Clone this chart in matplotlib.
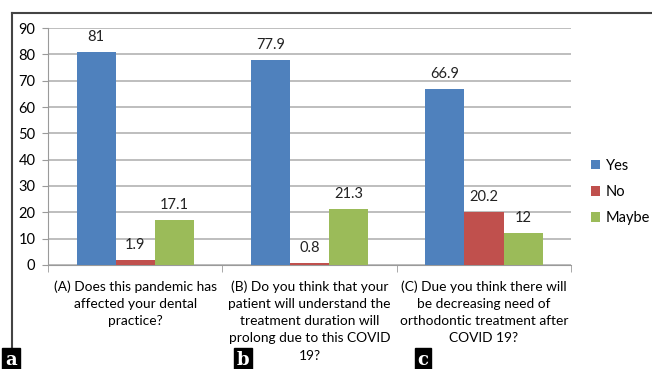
import matplotlib.pyplot as plt
import numpy as np
from matplotlib.lines import Line2D

# data
categories = [
    "(A) Does this pandemic has\naffected your dental\npractice?",
    "(B) Do you think that your\npatient will understand the\ntreatment duration will\nprolong due to this COVID\n19?",
    "(C) Due you think there will\nbe decreasing need of\northodontic treatment after\nCOVID 19?",
]
yes = [81, 77.9, 66.9]
no = [1.9, 0.8, 20.2]
maybe = [17.1, 21.3, 12]
series_names = ["Yes", "No", "Maybe"]
colors = ["#4F81BD", "#C0504D", "#9BBB59"]
panel_letters = ["a", "b", "c"]

plt.rcParams["font.family"] = ["Lato", "DejaVu Sans"]

fig = plt.figure(figsize=(6.52, 3.69), dpi=100)
ax = fig.add_axes([0.0736, 0.282, 0.8025, 0.642])

x = np.arange(len(categories))
w = 0.224
for i, (vals, name, c) in enumerate(zip([yes, no, maybe], series_names, colors)):
    pos = x + (i - 1) * w
    ax.bar(pos, vals, width=w, color=c, label=name, zorder=3)
    for p, v in zip(pos, vals):
        ax.text(p, v + 3, f"{v:g}", ha="center", va="bottom", fontsize=10.5, color="#222222")

ax.set_xlim(-0.5, 2.5)
ax.set_ylim(0, 90)
ax.set_yticks(range(0, 91, 10))
ax.yaxis.grid(True, color="#BEBEBE", linewidth=1.4, zorder=0)
ax.set_axisbelow(True)
for s in ["top", "right"]:
    ax.spines[s].set_visible(False)
ax.spines["left"].set_color("#9A9A9A")
ax.spines["bottom"].set_color("#9A9A9A")
ax.tick_params(axis="y", length=4, color="#9A9A9A", labelsize=10.5, pad=5)

ax.set_xticks(x)
ax.set_xticklabels(categories, fontsize=9.9, linespacing=1.52, va="top")
ax.tick_params(axis="x", length=0, pad=11)
ax.set_xticks([-0.5, 0.5, 1.5, 2.5], minor=True)
ax.tick_params(axis="x", which="minor", length=5, color="#9A9A9A")

fig.legend(*ax.get_legend_handles_labels(), loc="center left",
           bbox_to_anchor=(591 / 652, 1 - 192 / 369), frameon=False,
           borderpad=0, borderaxespad=0,
           handlelength=0.65, handleheight=0.65, handletextpad=0.35,
           labelspacing=0.85, fontsize=10.5)

# outer frame
fig.add_artist(Line2D([12 / 652, 12 / 652], [0, 1 - 13 / 369], color="#444444", lw=1.5))
fig.add_artist(Line2D([12 / 652, 1], [1 - 13 / 369, 1 - 13 / 369], color="#444444", lw=1.5))

# panel letters
for px, letter in zip([0, 232, 412], panel_letters):
    fig.text((px + 11) / 652, 9 / 369, letter, ha="center", va="center",
             fontsize=13, fontweight="bold", family="DejaVu Serif", color="white",
             bbox=dict(boxstyle="square,pad=0.15", fc="black", ec="black"))

fig.savefig("out.png", dpi=100)
